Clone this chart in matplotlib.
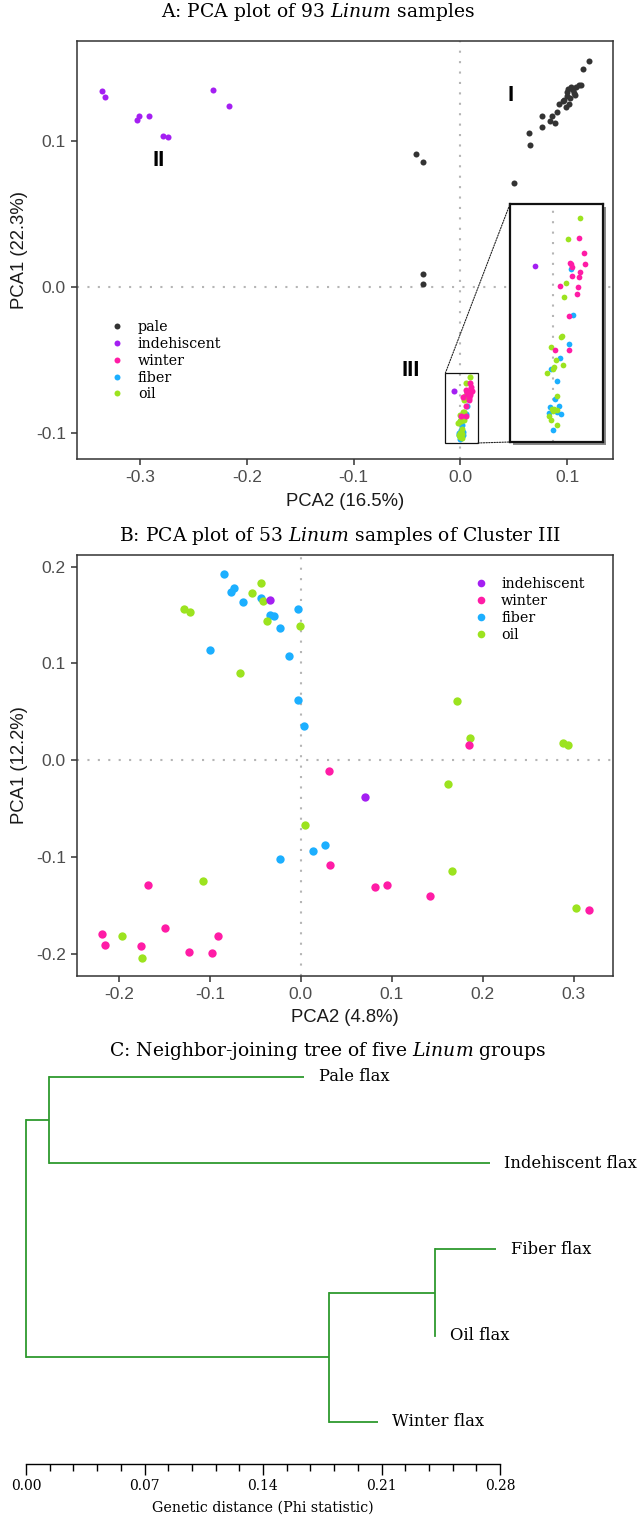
import matplotlib
matplotlib.use('Agg')
import matplotlib.pyplot as plt
from matplotlib.patches import Rectangle, ConnectionPatch
from matplotlib.lines import Line2D
from matplotlib.ticker import MultipleLocator, FormatStrFormatter

plt.rcParams['mathtext.fontset'] = 'dejavuserif'
SERIF = 'DejaVu Serif'
SANS = 'Liberation Sans'

W, H = 640, 1519

# ---------------- data ----------------
group_names = ['pale', 'indehiscent', 'winter', 'fiber', 'oil']
group_colors = ['#333333', '#A41FF2', '#FF1CA6', '#1CAFFF', '#9CE31F']

# Panel A (93 samples)
a_pale_x = [-0.0419, -0.0347, -0.0353, -0.0353,
            0.0499, 0.0649, 0.0640, 0.0761, 0.0767, 0.0839, 0.0855, 0.0883, 0.0907,
            0.0926, 0.0973, 0.0995, 0.1020, 0.1026, 0.1010, 0.1036, 0.1057, 0.1073,
            0.1082, 0.1113, 0.1129, 0.1145, 0.1207, 0.0989, 0.1064, 0.0998, 0.0961]
a_pale_y = [0.0916, 0.0856, 0.0089, 0.0023,
            0.0714, 0.0973, 0.1060, 0.1101, 0.1172, 0.1144, 0.1172, 0.1126, 0.1201,
            0.1259, 0.1286, 0.1309, 0.1259, 0.1297, 0.1362, 0.1373, 0.1355, 0.1321,
            0.1373, 0.1389, 0.1386, 0.1501, 0.1556, 0.1235, 0.1336, 0.1343, 0.1275]
a_indeh_x = [-0.3357, -0.3326, -0.3031, -0.3007, -0.2917, -0.2785, -0.2737, -0.2314, -0.2168, -0.0058]
a_indeh_y = [0.1350, 0.1304, 0.1151, 0.1174, 0.1174, 0.1041, 0.1030, 0.1352, 0.1242, -0.0715]
a_winter_x = [0.0087, 0.0102, 0.0056, 0.0106, 0.0063, 0.0090, 0.0065, 0.0087, 0.0024, 0.0083,
              0.0081, 0.0055, 0.0007, 0.0053, 0.0062]
a_winter_y = [-0.0658, -0.0688, -0.0708, -0.0711, -0.0717, -0.0727, -0.0735, -0.0738, -0.0756, -0.0758,
              -0.0772, -0.0816, -0.0885, -0.0885, -0.0712]
a_fiber_x = [0.0061, 0.0066, 0.0054, 0.0025, -0.0006, 0.0015, 0.0009, 0.0022, -0.0008, 0.0029,
             0.0001, 0.0014, -0.0013]
a_fiber_y = [-0.0722, -0.0814, -0.0872, -0.0900, -0.0922, -0.0947, -0.0984, -0.0998, -0.1000, -0.1013,
             -0.1045, -0.1010, -0.1012]
a_oil_x = [0.0091, 0.0052, 0.0043, 0.0039, 0.0031, 0.0027, -0.0006, 0.0010, 0.0034, 0.0005,
           0.0000, -0.0019, 0.0016, -0.0003, 0.0006, 0.0014, -0.0011, -0.0006, 0.0016, 0.0002]
a_oil_y = [-0.0618, -0.0660, -0.0749, -0.0777, -0.0857, -0.0858, -0.0878, -0.0905, -0.0914, -0.0919,
           -0.0922, -0.0931, -0.0977, -0.1003, -0.1003, -0.1005, -0.1018, -0.1026, -0.1036, -0.1008]
a_xlim = (-0.359, 0.143)
a_ylim = (-0.118, 0.169)
a_xticks = [-0.3, -0.2, -0.1, 0.0, 0.1]
a_yticks = [-0.1, 0.0, 0.1]
a_cluster_labels = ['I', 'II', 'III']
a_cluster_x = [0.0469, -0.2825, -0.0463]
a_cluster_y = [0.1319, 0.0870, -0.0572]
inset_xlim = (-0.014, 0.0166)
inset_ylim = (-0.107, -0.059)

# Panel B (53 samples of cluster III)
b_indeh_x = [-0.0335, 0.0710]
b_indeh_y = [0.1655, -0.0379]
b_winter_x = [0.0306, 0.1852, 0.0325, -0.1680, 0.0815, 0.0945, 0.1424, 0.3167, -0.2187, -0.2156,
              -0.1759, -0.1492, -0.0908, -0.1225, -0.0978]
b_winter_y = [-0.0110, 0.0155, -0.1086, -0.1293, -0.1310, -0.1293, -0.1403, -0.1548, -0.1796, -0.1910,
              -0.1923, -0.1734, -0.1813, -0.1982, -0.1989]
b_fiber_x = [-0.0847, -0.0767, -0.0734, -0.0639, -0.0441, -0.0338, -0.0298, -0.0229, -0.0031, -0.1001,
             -0.0126, -0.0031, 0.0038, 0.0270, 0.0136, -0.0229]
b_fiber_y = [0.1923, 0.1734, 0.1776, 0.1631, 0.1672, 0.1496, 0.1486, 0.1362, 0.1558, 0.1141,
             0.1075, 0.0620, 0.0355, -0.0872, -0.0941, -0.1017]
b_oil_x = [-0.0434, -0.0540, -0.0419, -0.0371, -0.1284, -0.1221, -0.0012, -0.0665, 0.1716, 0.1859,
           0.2878, 0.2940, 0.1620, 0.0042, 0.1659, -0.1073, 0.3018, -0.1964, -0.1747]
b_oil_y = [0.1830, 0.1727, 0.1644, 0.1437, 0.1565, 0.1534, 0.1386, 0.0900, 0.0610, 0.0224,
           0.0179, 0.0155, -0.0241, -0.0665, -0.1141, -0.1244, -0.1527, -0.1817, -0.2040]
b_xlim = (-0.246, 0.343)
b_ylim = (-0.223, 0.212)
b_xticks = [-0.2, -0.1, 0.0, 0.1, 0.2, 0.3]
b_yticks = [-0.2, -0.1, 0.0, 0.1, 0.2]

# Panel C (neighbor-joining tree)
tree_leaves = ['Pale flax', 'Indehiscent flax', 'Fiber flax', 'Oil flax', 'Winter flax']
tree_node_dist = {'root': 0.0, 'PI': 0.0136, 'FOW': 0.1787, 'FO': 0.2416,
                  'Pale flax': 0.1642, 'Indehiscent flax': 0.2740, 'Fiber flax': 0.2776,
                  'Oil flax': 0.2416, 'Winter flax': 0.2077}
tree_edges = [('root', 'PI'), ('root', 'FOW'), ('PI', 'Pale flax'), ('PI', 'Indehiscent flax'),
              ('FOW', 'FO'), ('FOW', 'Winter flax'), ('FO', 'Fiber flax'), ('FO', 'Oil flax')]
c_xlim = (0.0, 0.28)

# ---------------- figure ----------------
fig = plt.figure(figsize=(W / 100, H / 100), dpi=100)


def px_axes(l, t, r, b, **kw):
    return fig.add_axes([l / W, 1 - b / H, (r - l) / W, (b - t) / H], **kw)


def style_pca(ax):
    for s in ax.spines.values():
        s.set_color('#333333')
        s.set_linewidth(1.1)
    ax.tick_params(direction='out', length=4, width=1.1, color='#333333',
                   labelcolor='#4D4D4D', labelsize=12.5, pad=4)
    for lab in ax.get_xticklabels() + ax.get_yticklabels():
        lab.set_family(SANS)
    ax.axhline(0, color='#B5B5B5', lw=1.5, ls=(0, (1, 4)), zorder=0)
    ax.axvline(0, color='#B5B5B5', lw=1.5, ls=(0, (1, 4)), zorder=0)


def fmt1(v):
    return '%.1f' % v


# ---- Panel A ----
axA = px_axes(77, 41, 613, 459)
axA.set_xlim(*a_xlim)
axA.set_ylim(*a_ylim)
axA.set_xticks(a_xticks)
axA.set_xticklabels([fmt1(v) for v in a_xticks])
axA.set_yticks(a_yticks)
axA.set_yticklabels([fmt1(v) for v in a_yticks])
style_pca(axA)

a_sets = {'pale': (a_pale_x, a_pale_y), 'indehiscent': (a_indeh_x, a_indeh_y),
          'winter': (a_winter_x, a_winter_y), 'fiber': (a_fiber_x, a_fiber_y),
          'oil': (a_oil_x, a_oil_y)}
draw_order = ['pale', 'fiber', 'oil', 'winter', 'indehiscent']
cmap = dict(zip(group_names, group_colors))
for g in draw_order:
    xs, ys = a_sets[g]
    axA.scatter(xs, ys, s=19, color=cmap[g], lw=0, zorder=3)

for lab, x, y in zip(a_cluster_labels, a_cluster_x, a_cluster_y):
    axA.text(x, y, lab, family=SANS, fontsize=16, fontweight='bold', ha='center', va='center',
             color='black')

axA.set_xlabel('PCA2 (16.5%)', family=SANS, fontsize=13.3, color='#1A1A1A', va='center')
axA.xaxis.set_label_coords(0.5, -(502 - 459) / 418)
axA.set_ylabel('PCA1 (22.3%)', family=SANS, fontsize=13.3, color='#1A1A1A', va='center')
axA.yaxis.set_label_coords((20 - 77) / 536, 0.5)

handles = [Line2D([], [], marker='o', ls='', color=c, markersize=4.3, markeredgewidth=0)
           for c in group_colors]
legA = axA.legend(handles, group_names, loc='upper left',
                  bbox_to_anchor=((117 - 7) / W, 1 - 320 / H), bbox_transform=fig.transFigure,
                  frameon=False, prop={'family': SERIF, 'size': 10.3},
                  handlelength=1.0, handletextpad=0.95, labelspacing=0.2,
                  borderpad=0, borderaxespad=0)

# small box showing the zoomed region
axA.add_patch(Rectangle((inset_xlim[0], inset_ylim[0]), inset_xlim[1] - inset_xlim[0],
                        inset_ylim[1] - inset_ylim[0], fill=False, ec='#111111', lw=0.9, zorder=4))

# shadow of inset
axA.add_patch(Rectangle((513 / W, 1 - 445 / H), 93 / W, 238 / H, transform=fig.transFigure,
                        facecolor='#8A8A8A', edgecolor='none', zorder=6, clip_on=False))

axI = px_axes(510, 204, 603, 442)
axI.set_xlim(*inset_xlim)
axI.set_ylim(*inset_ylim)
axI.set_xticks([])
axI.set_yticks([])
for s in axI.spines.values():
    s.set_color('#111111')
    s.set_linewidth(1.6)
axI.axvline(0, color='#B5B5B5', lw=1.5, ls=(0, (1, 4)), zorder=0)
for g in draw_order:
    xs, ys = a_sets[g]
    axI.scatter(xs, ys, s=17, color=cmap[g], lw=0, zorder=3)

for xyA, xyB in [((inset_xlim[0], inset_ylim[1]), (0, 1)), ((inset_xlim[1], inset_ylim[0]), (0, 0))]:
    con = ConnectionPatch(xyA=xyA, coordsA=axA.transData, xyB=xyB, coordsB=axI.transAxes,
                          ls=(0, (1.2, 1.2)), lw=0.8, color='#222222', zorder=5)
    fig.add_artist(con)

fig.text(318 / W, 1 - 12 / H, r'A: PCA plot of 93 $\mathit{Linum}$ samples', family=SERIF,
         fontsize=13.5, ha='center', va='center')

# ---- Panel B ----
axB = px_axes(77, 555, 613, 976)
axB.set_xlim(*b_xlim)
axB.set_ylim(*b_ylim)
axB.set_xticks(b_xticks)
axB.set_xticklabels([fmt1(v) for v in b_xticks])
axB.set_yticks(b_yticks)
axB.set_yticklabels([fmt1(v) for v in b_yticks])
style_pca(axB)
b_sets = {'indehiscent': (b_indeh_x, b_indeh_y), 'winter': (b_winter_x, b_winter_y),
          'fiber': (b_fiber_x, b_fiber_y), 'oil': (b_oil_x, b_oil_y)}
for g in ['fiber', 'oil', 'winter', 'indehiscent']:
    xs, ys = b_sets[g]
    axB.scatter(xs, ys, s=36, color=cmap[g], lw=0, zorder=3)
axB.set_xlabel('PCA2 (4.8%)', family=SANS, fontsize=13.3, color='#1A1A1A', va='center')
axB.xaxis.set_label_coords(0.5, -(1018 - 976) / 421)
axB.set_ylabel('PCA1 (12.2%)', family=SANS, fontsize=13.3, color='#1A1A1A', va='center')
axB.yaxis.set_label_coords((20 - 77) / 536, 0.5)
b_names = group_names[1:]
handlesB = [Line2D([], [], marker='o', ls='', color=cmap[g], markersize=5.5, markeredgewidth=0)
            for g in b_names]
axB.legend(handlesB, b_names, loc='upper left',
           bbox_to_anchor=((481 - 7) / W, 1 - 577 / H), bbox_transform=fig.transFigure,
           frameon=False, prop={'family': SERIF, 'size': 10.3},
           handlelength=1.0, handletextpad=0.9, labelspacing=0.22,
           borderpad=0, borderaxespad=0)
fig.text(340 / W, 1 - 536 / H, r'B: PCA plot of 53 $\mathit{Linum}$ samples of Cluster III',
         family=SERIF, fontsize=13.5, ha='center', va='center')

# ---- Panel C ----
axC = px_axes(26, 1060, 500, 1464)
axC.set_xlim(*c_xlim)
leaf_y = {name: i for i, name in enumerate(tree_leaves)}
axC.set_ylim(4.487, -0.197)
node_y = dict(leaf_y)
children = {}
for p, c in tree_edges:
    children.setdefault(p, []).append(c)


def get_y(n):
    if n not in node_y:
        node_y[n] = sum(get_y(c) for c in children[n]) / len(children[n])
    return node_y[n]


get_y('root')
tree_color = '#2E9A2E'
for p, c in tree_edges:
    axC.plot([tree_node_dist[p], tree_node_dist[c]], [node_y[c], node_y[c]],
             color=tree_color, lw=1.3, solid_capstyle='butt', clip_on=False)
for p, cs in children.items():
    ys = [node_y[c] for c in cs]
    axC.plot([tree_node_dist[p]] * 2, [min(ys), max(ys)], color=tree_color, lw=1.3,
             solid_capstyle='projecting', clip_on=False)
for name in tree_leaves:
    axC.annotate(name, (tree_node_dist[name], node_y[name]), xytext=(10.5, 0),
                 textcoords='offset points', family=SERIF, fontsize=11.8, ha='left', va='center',
                 annotation_clip=False)
for side in ['top', 'left', 'right']:
    axC.spines[side].set_visible(False)
axC.spines['bottom'].set_linewidth(1.0)
axC.set_yticks([])
axC.xaxis.set_major_locator(MultipleLocator(0.07))
axC.xaxis.set_minor_locator(MultipleLocator(0.014))
axC.xaxis.set_major_formatter(FormatStrFormatter('%.2f'))
axC.tick_params(axis='x', which='major', direction='out', length=8, width=1.0, labelsize=10, pad=3)
axC.tick_params(axis='x', which='minor', direction='out', length=5, width=1.0)
for lab in axC.get_xticklabels():
    lab.set_family(SERIF)
axC.set_xlabel('Genetic distance (Phi statistic)', family=SERIF, fontsize=10.3, va='center')
axC.xaxis.set_label_coords(0.5, -(1508 - 1464) / 404)
axC.patch.set_alpha(0)
fig.text(327 / W, 1 - 1051 / H, r'C: Neighbor-joining tree of five $\mathit{Linum}$ groups',
         family=SERIF, fontsize=13.5, ha='center', va='center')

fig.savefig('out.png', dpi=100)
